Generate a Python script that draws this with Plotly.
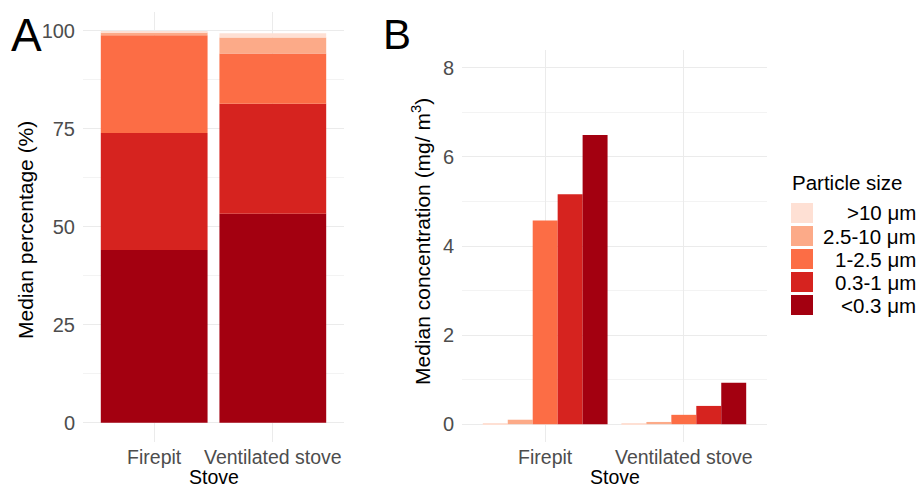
import plotly.graph_objects as go

W, H = 919, 489

stoves = ["Firepit", "Ventilated stove"]
size_labels = [">10 μm", "2.5-10 μm", "1-2.5 μm", "0.3-1 μm", "<0.3 μm"]

# Panel A: median percentage (%)
pct_gt10 = [0.2, 1.1]
pct_2p5_10 = [0.7, 4.1]
pct_1_2p5 = [25.0, 12.8]
pct_03_1 = [29.8, 28.1]
pct_lt03 = [44.1, 53.3]

# Panel B: median concentration (mg/m3)
conc_gt10 = [0.02, 0.01]
conc_2p5_10 = [0.10, 0.05]
conc_1_2p5 = [4.57, 0.21]
conc_03_1 = [5.16, 0.41]
conc_lt03 = [6.49, 0.93]

y_ticks_a = [0, 25, 50, 75, 100]
y_ticks_b = [0, 2, 4, 6, 8]

colors = ["#FEE0D4", "#FCAA88", "#FC6D45", "#D6231F", "#A30010"]

pct_series = [pct_gt10, pct_2p5_10, pct_1_2p5, pct_03_1, pct_lt03]
conc_series = [conc_gt10, conc_2p5_10, conc_1_2p5, conc_03_1, conc_lt03]

FONT = "Liberation Sans, Arial, sans-serif"


def px(x):
    return x / W


def py(y):
    return 1 - y / H


fig = go.Figure()

# Panel A: stacked from bottom (<0.3) to top (>10)
base = [0.0, 0.0]
for i in reversed(range(5)):
    vals = pct_series[i]
    fig.add_trace(go.Bar(
        x=stoves, y=vals, base=list(base), width=0.9,
        marker=dict(color=colors[i], line=dict(width=0)),
        name=size_labels[i], showlegend=False,
        xaxis="x", yaxis="y",
    ))
    base = [b + v for b, v in zip(base, vals)]

# Panel B: dodged bars
n = 5
bw = 0.9 / n
for i in range(n):
    fig.add_trace(go.Bar(
        x=stoves, y=conc_series[i], width=bw, offset=-0.45 + bw * i,
        marker=dict(color=colors[i], line=dict(width=0)),
        name=size_labels[i], showlegend=False,
        xaxis="x2", yaxis="y2",
    ))

grid_major = "#EBEBEB"
grid_minor = "#F3F3F3"
xtickfont = dict(family=FONT, size=19.5, color="#4D4D4D")
ytickfont = dict(family=FONT, size=20, color="#4D4D4D")

xa = dict(type="category", range=[-0.6, 1.6], showgrid=True, gridcolor=grid_major,
          gridwidth=1.2, zeroline=False, showline=False, ticks="",
          tickfont=xtickfont, ticklabelstandoff=1, fixedrange=True)
ya_common = dict(showgrid=True, gridcolor=grid_major, gridwidth=1.2, zeroline=False,
                 showline=False, ticks="", tickfont=ytickfont, ticklabelstandoff=7,
                 fixedrange=True)

fig.update_layout(
    width=W, height=H,
    margin=dict(l=0, r=0, t=0, b=0),
    paper_bgcolor="white", plot_bgcolor="white",
    barmode="overlay",
    showlegend=False,
    font=dict(family=FONT, color="black"),
    xaxis=dict(domain=[px(83), px(344)], anchor="y", **xa),
    yaxis=dict(domain=[py(442), py(12)], anchor="x", range=[-4.9, 104.8],
               tickvals=y_ticks_a, ticktext=[str(v) for v in y_ticks_a],
               minor=dict(tickvals=[12.5, 37.5, 62.5, 87.5], showgrid=True,
                          gridcolor=grid_minor, gridwidth=0.8),
               **ya_common),
    xaxis2=dict(domain=[px(462), px(767)], anchor="y2", **xa),
    yaxis2=dict(domain=[py(442), py(50)], anchor="x2", range=[-0.4, 8.4],
                tickvals=y_ticks_b, ticktext=[str(v) for v in y_ticks_b],
                minor=dict(tickvals=[1, 3, 5, 7], showgrid=True,
                           gridcolor=grid_minor, gridwidth=0.8),
                **ya_common),
)


def note(text, x, y, size, xanchor="center", yanchor="middle", angle=0, color="black"):
    return dict(text=text, x=px(x), y=py(y), xref="paper", yref="paper",
                xanchor=xanchor, yanchor=yanchor, textangle=angle, borderpad=0,
                showarrow=False, font=dict(family=FONT, size=size, color=color))


ann = []
# panel letters
ann.append(note("A", 26, 35, 46))
ann.append(note("B", 397, 35, 42))
# axis titles
ann.append(note("Median percentage (%)", 25, 230, 21, angle=-90))
ann.append(note("Median concentration (mg/ m<sup>3</sup>)", 421, 242, 21, angle=-90))
ann.append(note("Stove", 213.5, 489, 19.5, yanchor="bottom"))
ann.append(note("Stove", 614.5, 489, 19.5, yanchor="bottom"))

# custom legend (right-aligned labels like ggplot)
ann.append(note("Particle size", 791, 182, 20.5, xanchor="left"))
shapes = []
for k in range(5):
    cy = 213 + 23 * k
    shapes.append(dict(type="rect", xref="paper", yref="paper",
                       x0=px(791), x1=px(813), y0=py(cy + 10), y1=py(cy - 10),
                       fillcolor=colors[k], line=dict(width=0)))
    ann.append(note(size_labels[k], 917, cy, 20.5, xanchor="right"))

fig.update_layout(annotations=ann, shapes=shapes)

fig.write_html("out.html")
